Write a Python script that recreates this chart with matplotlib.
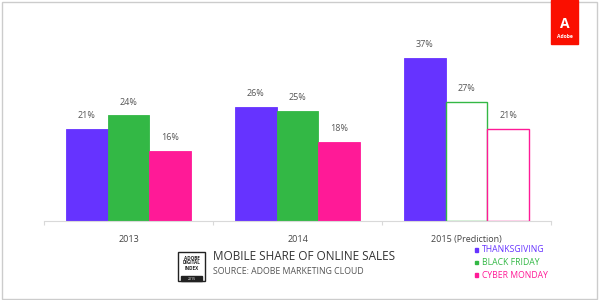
import matplotlib
matplotlib.use('Agg')
import matplotlib.pyplot as plt
from matplotlib.patches import Rectangle
import numpy as np

plt.rcParams['font.family'] = ['Open Sans', 'DejaVu Sans']

# Dados do gráfico
years = ['2013', '2014', '2015 (Prediction)']
series = ['THANKSGIVING', 'BLACK FRIDAY', 'CYBER MONDAY']
thanksgiving = [21, 26, 37]
black_friday = [24, 25, 27]
cyber_monday = [16, 18, 21]
colors = ['#6633ff', '#33b845', '#ff1a97']

fig = plt.figure(figsize=(6, 3), dpi=100)
ax = fig.add_axes([44 / 600, 0.263, 507 / 600, 0.587])

x = np.arange(len(years))
w = 0.248
for i, (vals, c) in enumerate(zip([thanksgiving, black_friday, cyber_monday], colors)):
    pos = x + (i - 1) * w
    for j, (p, v) in enumerate(zip(pos, vals)):
        # previsão de 2015: apenas contorno para Black Friday e Cyber Monday
        hollow = (j == 2 and i > 0)
        ax.bar(p, v, width=w, color='white' if hollow else c,
               edgecolor=c, linewidth=1.0 if hollow else 0.6)
        ax.text(p, v + 2.0, f'{v}%', ha='center', va='bottom',
                fontsize=6.5, color='#555555')

ax.set_xlim(-0.5, 2.5)
ax.set_ylim(0, 40)
for s in ['top', 'right', 'left']:
    ax.spines[s].set_visible(False)
ax.spines['bottom'].set_color('#d9d9d9')
ax.set_yticks([])
ax.set_xticks([-0.5, 0.5, 1.5, 2.5])
ax.set_xticklabels([])
ax.set_xticks(x, minor=True)
ax.set_xticklabels(years, minor=True)
ax.tick_params(axis='x', which='major', length=3, color='#d9d9d9')
ax.tick_params(axis='x', which='minor', length=0, pad=10, labelsize=6.5, labelcolor='#444444')

# Moldura externa
fig.patches.append(Rectangle((0.003, 0.005), 0.992, 0.99, transform=fig.transFigure,
                             fill=False, edgecolor='#cccccc', linewidth=1))

# Logo Adobe
fig.patches.append(Rectangle((551 / 600, 1 - 44 / 300), 27 / 600, 44 / 300,
                             transform=fig.transFigure, color='#fa0f00'))
fig.text(564.5 / 600, 1 - 24 / 300, 'A', ha='center', va='center', fontsize=10,
         fontweight='bold', color='white')
fig.text(564.5 / 600, 1 - 36 / 300, 'Adobe', ha='center', va='center', fontsize=3.6,
         fontweight='bold', color='white')

# Selo Adobe Digital Index
fig.patches.append(Rectangle((178 / 600, 1 - 281 / 300), 27 / 600, 29 / 300,
                             transform=fig.transFigure, fill=False,
                             edgecolor='#222222', linewidth=1))
fig.patches.append(Rectangle((181 / 600, 1 - 281 / 300), 21 / 600, 5 / 300,
                             transform=fig.transFigure, color='#222222'))
fig.text(191.5 / 600, 1 - 263 / 300, 'ADOBE\nDIGITAL\nINDEX', ha='center', va='center',
         fontsize=3.3, fontweight='bold', color='#222222', linespacing=1.0)
fig.text(191.5 / 600, 1 - 278.5 / 300, '2015', ha='center', va='center',
         fontsize=2.5, color='white')

fig.text(213 / 600, 1 - 257 / 300, 'MOBILE SHARE OF ONLINE SALES', ha='left',
         va='center', fontsize=8.5, color='#333333')
fig.text(213 / 600, 1 - 271.5 / 300, 'SOURCE: ADOBE MARKETING CLOUD', ha='left',
         va='center', fontsize=6.3, color='#555555')

# Legenda
for k, (name, c) in enumerate(zip(series, colors)):
    yy = 1 - (250 + 12.5 * k) / 300
    fig.patches.append(Rectangle((474.5 / 600, yy - 1.7 / 300), 3.5 / 600, 3.5 / 300,
                                 transform=fig.transFigure, color=c))
    fig.text(482 / 600, yy, name, ha='left', va='center', fontsize=6.2, color=c)

plt.savefig('out.png', dpi=100)
plt.close()
